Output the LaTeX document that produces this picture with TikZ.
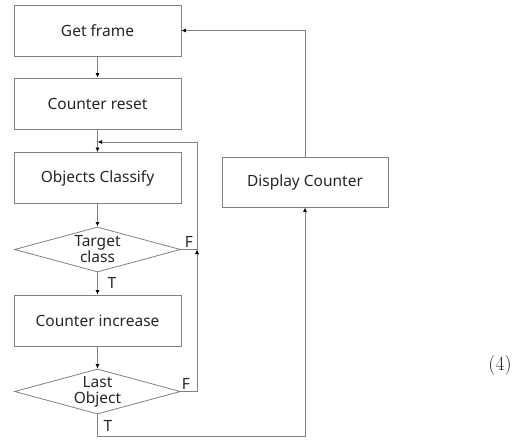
\documentclass[tikz,border=0pt]{standalone}
\usepackage{fontspec}
\setsansfont{Noto Sans}
\usetikzlibrary{arrows.meta,shapes.geometric}
\begin{document}
\begin{tikzpicture}[x=1pt,y=-1pt,
  every node/.style={font=\sffamily\fontsize{15.5}{16}\selectfont, text=black!85},
  procbox/.style={draw=black!50, line width=0.8pt, minimum width=167pt, minimum height=51pt, inner sep=0pt},
  decision/.style={draw=black!50, line width=0.8pt, diamond, aspect=3.69, minimum width=166pt, minimum height=45pt, inner sep=0pt},
  dtext/.style={align=center, inner sep=0pt},
  flow/.style={draw=black!50, line width=0.8pt},
  tip/.style={-{Latex[length=4.5pt,width=4pt,color=black]}},
  lbl/.style={inner sep=0pt}]
  \useasboundingbox (0,0) rectangle (522,441);

  % process boxes
  \node[procbox] (grab)   at (97.5,30.5)  {Get frame};
  \node[procbox] (reset)  at (97.5,103.5) {Counter reset};
  \node[procbox] (classify) at (97.5,178) {Objects Classify};
  \node[procbox] (incr)   at (97.5,320.5) {Counter increase};
  \node[procbox, minimum width=166pt, minimum height=50pt] (show) at (305,182) {Display Counter};

  % decisions (the wording sits on top of an empty diamond)
  \node[decision] (target) at (97.5,249.5) {};
  \node[dtext] (targettxt) at (target.center) {Target\\class};
  \node[decision] (last)   at (97.5,391.5) {};
  \node[dtext] (lasttxt) at (last.center) {Last\\Object};

  % loop-back points
  \coordinate (merge) at (97.5,142);
  \coordinate (rise)  at (197,249.5);
  \coordinate (exitT) at (97.5,436);

  % main flow
  \draw[flow,tip] (grab) -- (reset);
  \draw[flow,tip] (reset) -- (classify);
  \draw[flow,tip] (classify) -- (target);
  \draw[flow,tip] (target) -- (incr);
  \draw[flow,tip] (incr) -- (last);

  % F branches back to the classifier
  \draw[flow,tip] (last.east) -| (rise);
  \draw[flow,tip] (target.east) -- (rise) |- (merge);

  % T branch to display, then back to the next frame
  \draw[flow,tip] (last.south) -- (exitT) -| (show.south);
  \draw[flow,tip] (show.north) |- (grab.east);

  % branch labels
  \node[lbl] at (189,242) {F};
  \node[lbl] at (112,283) {T};
  \node[lbl] at (186,384) {F};
  \node[lbl] at (108,426) {T};

  % equation number
  \node[font=\rmfamily\fontsize{20}{24}\selectfont, text=black!85] (eqno) at (500,366) {(4)};
\end{tikzpicture}
\end{document}
